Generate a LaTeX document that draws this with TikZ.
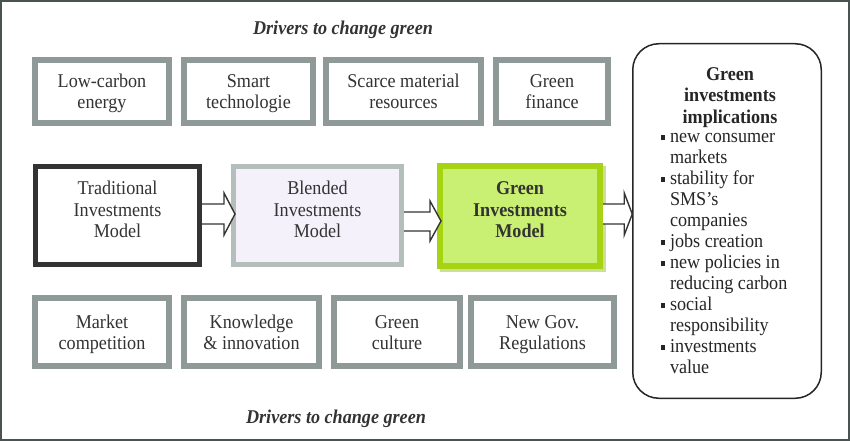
\documentclass[tikz,border=0pt]{standalone}
\usepackage{fontspec}
\setmainfont{Liberation Serif}[FakeStretch=0.93]
\usetikzlibrary{calc,shadows}
\definecolor{framec}{HTML}{4B5352}
\definecolor{drvgray}{HTML}{8F9A98}
\definecolor{txt}{HTML}{333333}
\definecolor{blendb}{HTML}{B4BFBC}
\definecolor{blendf}{HTML}{F4F1FB}
\definecolor{greenb}{HTML}{A6D412}
\definecolor{greenf}{HTML}{C9F072}
\definecolor{shadowg}{HTML}{CCDF94}
\definecolor{tradb}{HTML}{333333}
\newcommand\bitem{\makebox[9.5pt][l]{\raisebox{2.5pt}{\rule{4.8pt}{4.8pt}}}}
\newcommand\bcont{\hspace*{9.5pt}}
\tikzset{
  base/.style={font=\fontsize{19.5}{21.5}\selectfont, text=txt, align=center, inner sep=0pt, outer sep=0pt,
    execute at begin node={\rule{0pt}{41pt}}, execute at end node={\rule[-6pt]{0pt}{1pt}}},
  drv/.style={base, draw=drvgray, line width=6pt, fill=white},
  model/.style={base, execute at end node={\rule[-12pt]{0pt}{1pt}}},
  trad/.style={model, draw=tradb, line width=5pt, fill=white},
  blend/.style={model, draw=blendb, line width=5pt, fill=blendf},
  greenm/.style={model, draw=greenb, line width=6pt, fill=greenf, font=\fontsize{19.5}{21.5}\selectfont\bfseries,
    drop shadow={shadow xshift=3pt, shadow yshift=-3pt, fill=shadowg, draw=shadowg, line width=6pt, opacity=1}},
  blk/.style={draw=txt, fill=white, line width=1.4pt, line join=miter},
  title/.style={font=\fontsize{19.5}{21.5}\selectfont\bfseries\itshape, text=txt, inner sep=0pt},
  implbox/.style={draw=black!85, line width=1.5pt, rounded corners=26pt, fill=white, inner sep=0pt},
  impltext/.style={font=\fontsize{19.5}{21}\selectfont, text=black!85, inner sep=0pt, outer sep=0pt,
    execute at begin node=\strut, execute at end node=\strut}
}
\begin{document}
\begin{tikzpicture}[x=1pt,y=-1pt]
\path[use as bounding box, fill=white] (0,0) rectangle (850,441);
\draw[framec, line width=2pt] (1,1) rectangle (849,440);

\node[title] (tt) at (343,30) {Drivers to change green};
\node[title] (bt) at (336,419) {Drivers to change green};

% top drivers
\node[drv, minimum width=134pt, minimum height=63pt] (d1) at (102,91.5) {Low-carbon\\energy};
\node[drv, minimum width=129pt, minimum height=63pt] (d2) at (248.5,91.5) {Smart\\technologie};
\node[drv, minimum width=155pt, minimum height=63pt] (d3) at (403.5,91.5) {Scarce material\\resources};
\node[drv, minimum width=112pt, minimum height=63pt] (d4) at (552,91.5) {Green\\finance};

% bottom drivers
\node[drv, minimum width=134pt, minimum height=68pt] (e1) at (102,332) {Market\\competition};
\node[drv, minimum width=135pt, minimum height=68pt] (e2) at (251.5,332) {Knowledge\\\& innovation};
\node[drv, minimum width=126pt, minimum height=68pt] (e3) at (397,332) {Green\\culture};
\node[drv, minimum width=143pt, minimum height=68pt] (e4) at (542.5,332) {New Gov.\\Regulations};

% models
\node[trad, minimum width=164pt, minimum height=98pt] (t) at (117.5,215.5) {Traditional\\Investments\\Model};
\node[blend, minimum width=168pt, minimum height=98pt] (b) at (317.5,215.5) {Blended\\Investments\\Model};
\node[greenm, minimum width=160pt, minimum height=100pt] (g) at (520,216) {Green\\Investments\\Model};

% implications box
\node[implbox, minimum width=188.5pt, minimum height=354.5pt] (r) at (727,221) {};
\node[impltext, font=\fontsize{19.5}{21.5}\selectfont\bfseries, align=center] (rt) at (730,98.5) {Green\\investments\\implications};
\node[impltext, align=left, anchor=north west] (rl) at (660.5,133.5) {%
\bitem new consumer\\
\bcont markets\\
\bitem stability for\\
\bcont SMS’s\\
\bcont companies\\
\bitem jobs creation\\
\bitem new policies in\\
\bcont reducing carbon\\
\bitem social\\
\bcont responsibility\\
\bitem investments\\
\bcont value};

% block arrows
\draw[blk] ($(t.east)+(2.5,-11.5)$) -- ($(b.west)+(-9.5,-11.5)$) -- ($(b.west)+(-9.5,-22.5)$)
  -- ($(b.west)+(1.5,-1.5)$) -- ($(b.west)+(-9.5,19.5)$) -- ($(b.west)+(-9.5,8.5)$) -- ($(t.east)+(2.5,8.5)$);
\draw[blk] ($(b.east)+(2.5,-3.5)$) -- ($(g.west)+(-10,-4)$) -- ($(g.west)+(-10,-15)$)
  -- ($(g.west)+(1,5)$) -- ($(g.west)+(-10,25)$) -- ($(g.west)+(-10,15)$) -- ($(b.east)+(2.5,15.5)$);
\draw[blk] ($(g.east)+(3,-12)$) -- ($(r.west)+(-7.75,-17)$) -- ($(r.west)+(-7.75,-28)$)
  -- ($(r.west)+(0.25,-7)$) -- ($(r.west)+(-7.75,14)$) -- ($(r.west)+(-7.75,3)$) -- ($(g.east)+(3,8)$);
\end{tikzpicture}
\end{document}
